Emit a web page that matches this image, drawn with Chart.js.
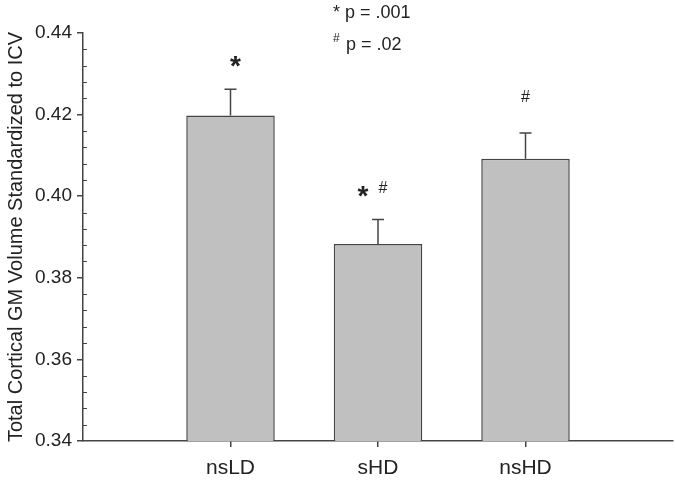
<!DOCTYPE html>
<html>
<head>
<meta charset="utf-8">
<script src="https://cdn.jsdelivr.net/npm/chart.js@4/dist/chart.umd.min.js"></script>
<style>
  html, body { margin: 0; padding: 0; background: #fff; }
  #wrap { width: 675px; height: 480px; }
</style>
</head>
<body>
<div id="wrap"><canvas id="gmChart"></canvas></div>
<script>
// data
const groups = ['nsLD', 'sHD', 'nsHD'];
const means = [0.4198, 0.3883, 0.4092];
const sem = [0.0064, 0.0060, 0.0063];
const marks = [['*'], ['*', '#'], ['#']];
const yTicks = [0.34, 0.36, 0.38, 0.40, 0.42, 0.44];

const ink = '#444';
const font = 'Liberation Sans, Arial, sans-serif';

// error bars + significance marks + p-value note
const extras = {
  id: 'extras',
  afterDatasetsDraw(chart) {
    const ctx = chart.ctx, x = chart.scales.x, y = chart.scales.y;
    ctx.save();
    ctx.strokeStyle = ink;
    ctx.lineWidth = 1.5;
    means.forEach((m, i) => {
      const px = x.getPixelForValue(i + 1);
      const top = y.getPixelForValue(m + sem[i]);
      ctx.beginPath();
      ctx.moveTo(px, y.getPixelForValue(m));
      ctx.lineTo(px, top);
      ctx.moveTo(px - 6, top);
      ctx.lineTo(px + 6, top);
      ctx.stroke();

      // marks above the error bar
      ctx.fillStyle = '#222';
      ctx.textAlign = 'center';
      ctx.textBaseline = 'alphabetic';
      const m2 = marks[i];
      if (m2.length === 2) {
        ctx.font = 'bold 28px ' + font;
        ctx.fillText('*', px - 15, top - 14);
        ctx.font = '16px ' + font;
        ctx.fillText('#', px + 5, top - 26);
      } else if (m2[0] === '*') {
        ctx.font = 'bold 28px ' + font;
        ctx.fillText('*', px + 5, top - 14);
      } else {
        ctx.font = '16px ' + font;
        ctx.fillText('#', px, top - 31);
      }
    });

    // p-value note at top
    ctx.fillStyle = '#222';
    ctx.textAlign = 'left';
    ctx.textBaseline = 'middle';
    ctx.font = '18px ' + font;
    ctx.fillText('* p = .001', 333, 13);
    ctx.font = '12px ' + font;
    ctx.fillText('#', 333, 39);
    ctx.font = '18px ' + font;
    ctx.fillText('p = .02', 346, 45);

    // minor ticks on the y axis (inside)
    ctx.beginPath();
    ctx.lineWidth = 1.2;
    for (let k = 0; k <= 25; k++) {
      if (k % 5 === 0) continue;
      const v = 0.34 + k * 0.004;
      const py = Math.round(y.getPixelForValue(v)) + 0.5;
      ctx.moveTo(y.right, py);
      ctx.lineTo(y.right + 4, py);
    }
    ctx.stroke();
    ctx.restore();
  }
};

new Chart(document.getElementById('gmChart'), {
  type: 'bar',
  data: {
    datasets: [{
      data: means.map((m, i) => ({ x: i + 1, y: m })),
      backgroundColor: '#c0c0c0',
      borderColor: ink,
      borderWidth: 1.5,
      borderSkipped: 'start',
      barPercentage: 0.75,
      categoryPercentage: 0.8
    }]
  },
  options: {
    responsive: true,
    maintainAspectRatio: false,
    animation: false,
    layout: { padding: { top: 33, right: 2, left: 4, bottom: 0 } },
    plugins: { legend: { display: false }, tooltip: { enabled: false } },
    scales: {
      x: {
        type: 'linear',
        min: 0,
        max: 4,
        offset: false,
        afterBuildTicks(s) { s.ticks = groups.map((g, i) => ({ value: i + 1 })); },
        afterFit(s) { s.height = 39; },
        ticks: {
          callback: v => groups[v - 1],
          color: '#222',
          font: { family: font, size: 21 },
          padding: 9,
          autoSkip: false,
          maxRotation: 0
        },
        grid: { offset: false, drawOnChartArea: false, drawTicks: true, tickLength: 6, color: ink, lineWidth: 1.5 },
        border: { color: ink, width: 1.5 }
      },
      y: {
        min: 0.34,
        max: 0.44,
        afterBuildTicks(s) { s.ticks = yTicks.map(v => ({ value: v })); },
        afterFit(s) { s.width = 79; },
        ticks: {
          callback: v => v.toFixed(2),
          color: '#222',
          font: { family: font, size: 19 },
          padding: 5
        },
        grid: { drawOnChartArea: false, drawTicks: true, tickLength: 6, color: ink, lineWidth: 1.5 },
        border: { color: ink, width: 1.5 },
        title: {
          display: true,
          text: 'Total Cortical GM Volume Standardized to ICV',
          color: '#222',
          font: { family: font, size: 20 },
          padding: { top: 0, bottom: 0 }
        }
      }
    }
  },
  plugins: [extras]
});
</script>
</body>
</html>
